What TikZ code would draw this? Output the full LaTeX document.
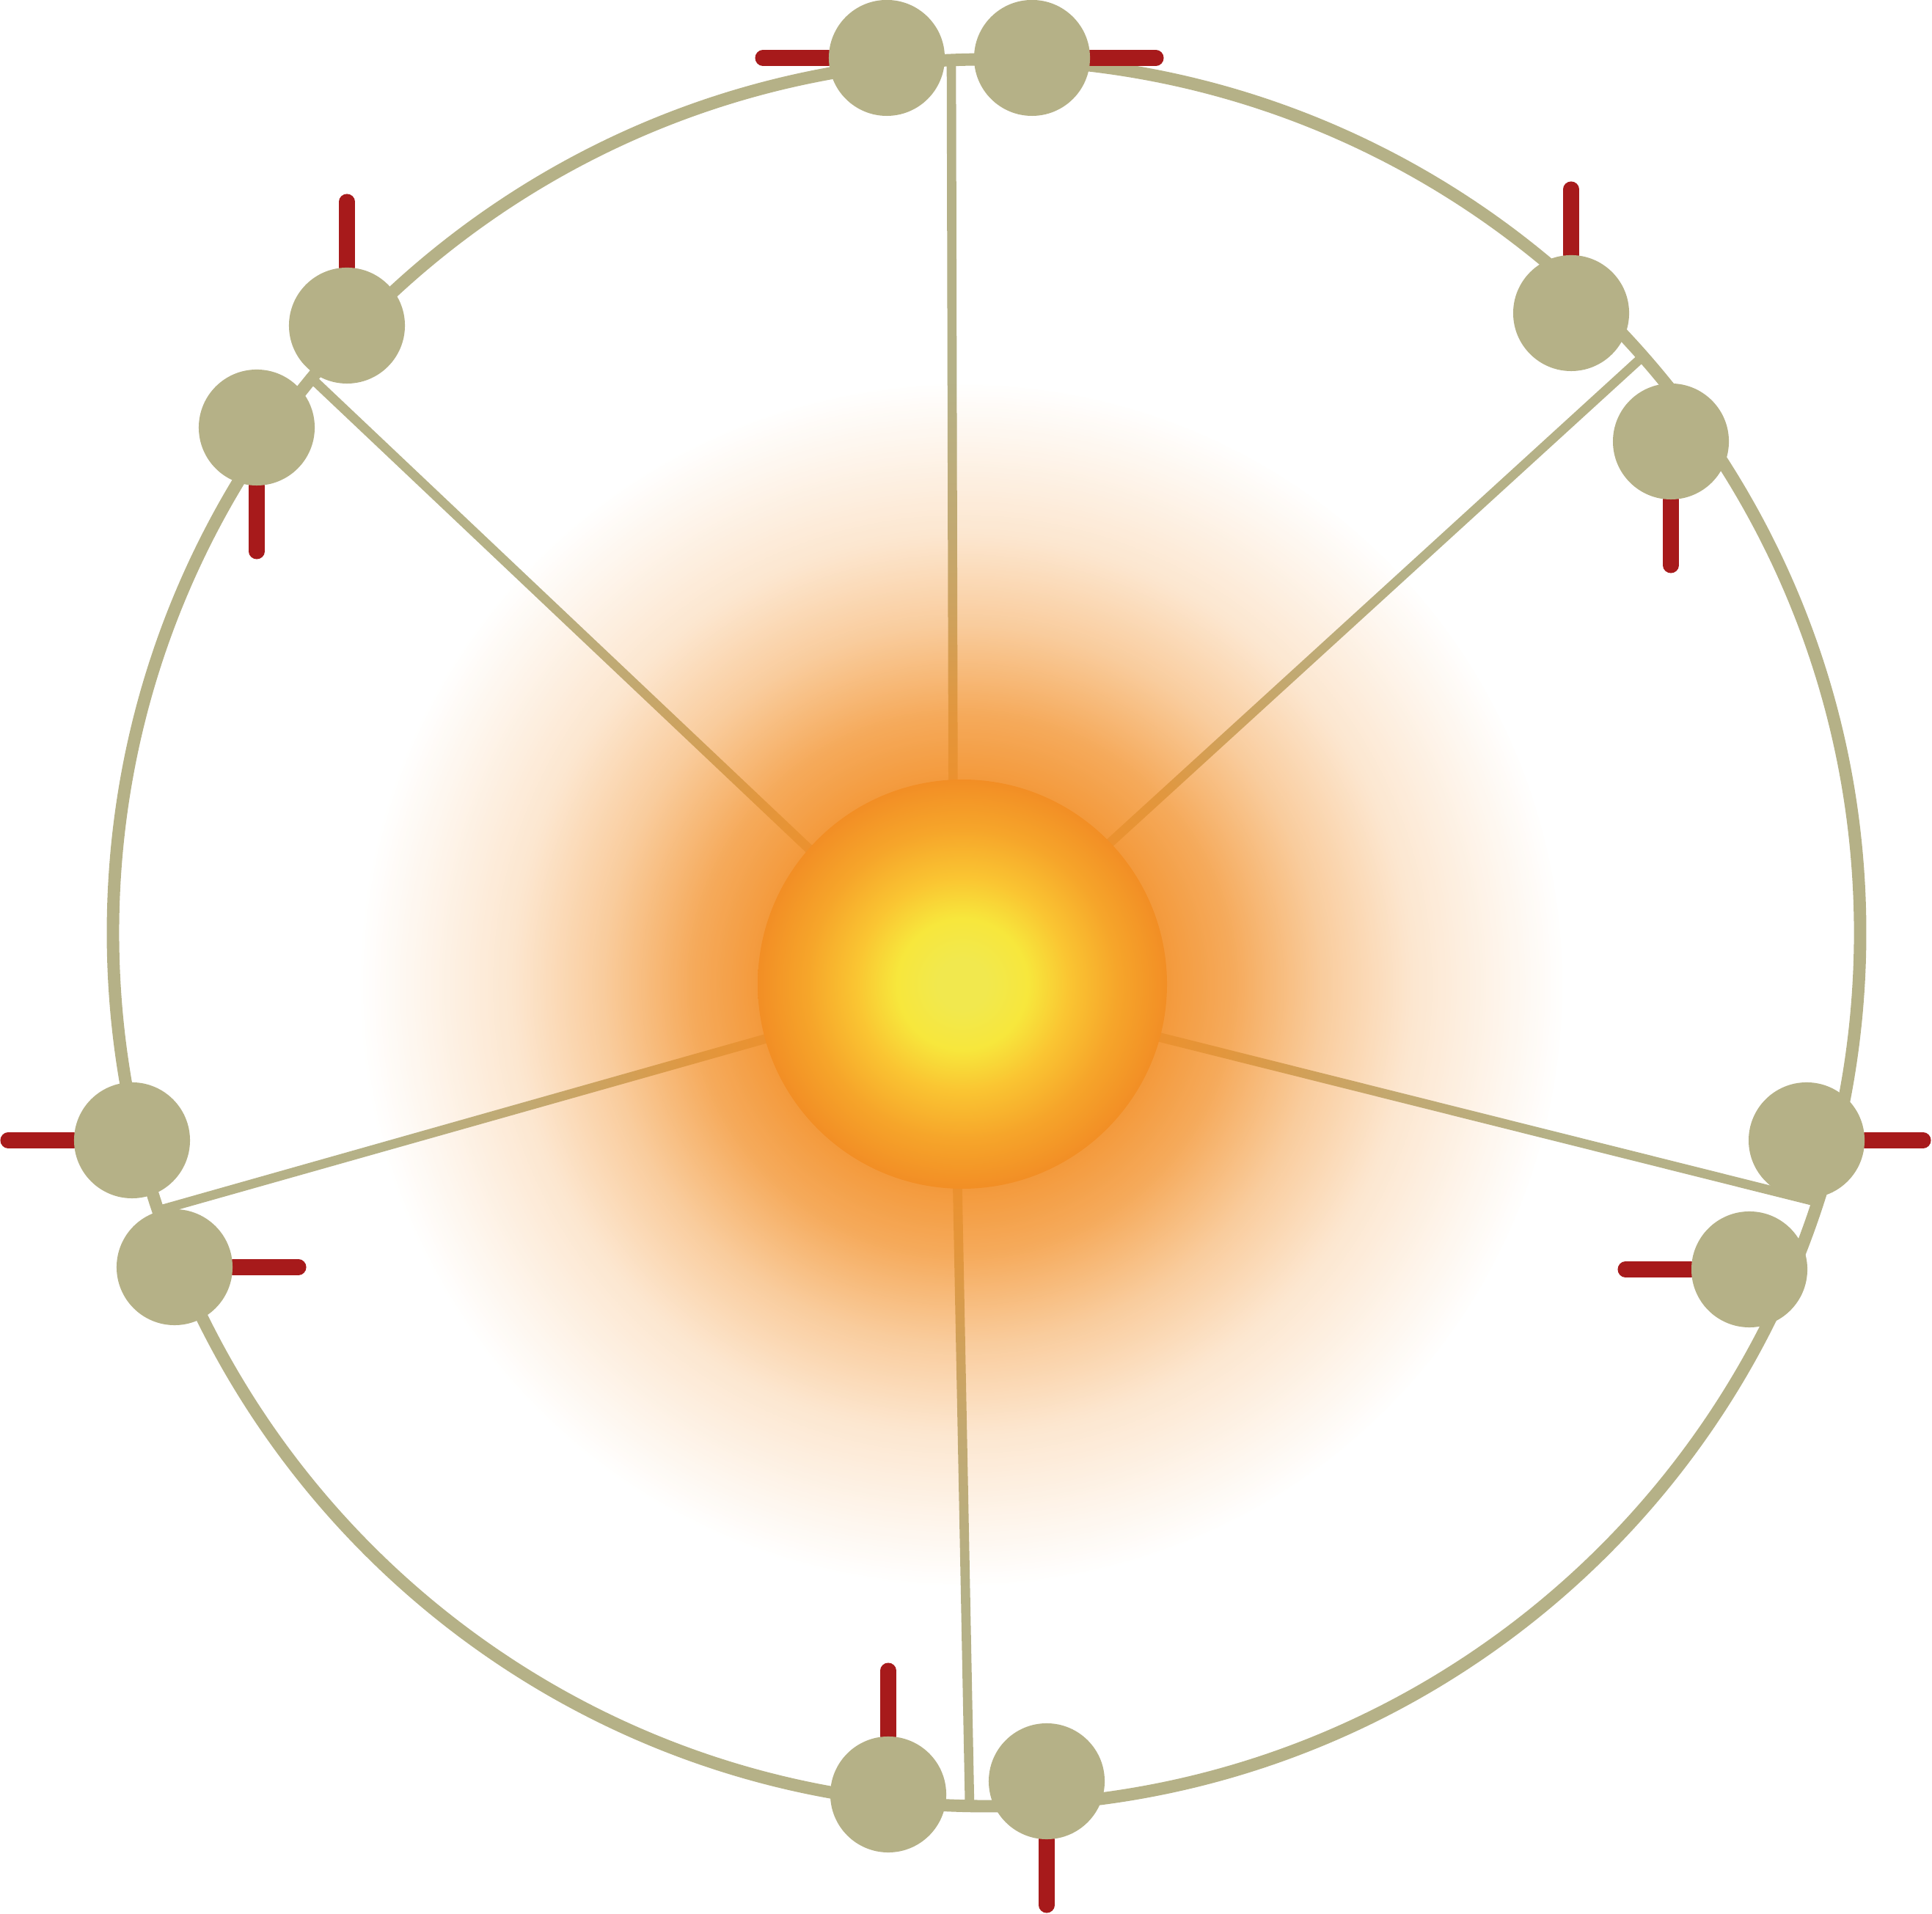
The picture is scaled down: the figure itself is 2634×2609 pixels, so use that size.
\documentclass[tikz,border=0pt]{standalone}
\usepackage{tikz}
\usetikzlibrary{fadings, backgrounds}
\definecolor{ringTan}{HTML}{B5B187}
\definecolor{barRed}{HTML}{A71A1B}
\definecolor{sunCore}{HTML}{F1E84E}
\definecolor{sunYellow}{HTML}{F7E73C}
\definecolor{sunGold}{HTML}{FAC532}
\definecolor{sunAmber}{HTML}{F6A52A}
\definecolor{sunOrange}{HTML}{F28E25}
\colorlet{haloOrange}{sunOrange}

\pgfdeclareradialshading{sunshade}{\pgfpointorigin}{color(0bp)=(sunCore); color(3bp)=(sunCore); color(8bp)=(sunYellow); color(13bp)=(sunGold); color(19bp)=(sunAmber); color(25bp)=(sunOrange); color(50bp)=(sunOrange)}
\pgfdeclareradialshading{halomask}{\pgfpointorigin}{color(0bp)=(white); color(8.4bp)=(black!10); color(11.2bp)=(black!25); color(14.9bp)=(black!55); color(18.6bp)=(black!78); color(22.3bp)=(black!91); color(25bp)=(black); color(50bp)=(black)}
\pgfdeclarefading{halofade}{\pgfuseshading{halomask}}

\begin{document}
\begin{tikzpicture}[x=0.01cm, y=0.01cm,
  bead/.style={circle, fill=ringTan, minimum size=1.58cm, inner sep=0pt},
  ringline/.style={draw=ringTan, line width=4.8pt},
  spoke/.style={draw=ringTan, line width=3.6pt},
  bar/.style={draw=barRed, line width=6pt, line cap=round}]
  \useasboundingbox (0,0) rectangle (2634,2609);

  % Beads
  \node[bead] (T1) at (1209,2530) {};
  \node[bead] (T2) at (1407,2530) {};
  \node[bead] (UL1) at (473,2165) {};
  \node[bead] (UL2) at (350,2026) {};
  \node[bead] (UR1) at (2142,2182) {};
  \node[bead] (UR2) at (2278,2007) {};
  \node[bead] (L1) at (180,1054) {};
  \node[bead] (L2) at (238,881) {};
  \node[bead] (R1) at (2463,1054) {};
  \node[bead] (R2) at (2385,878) {};
  \node[bead] (B1) at (1211,162) {};
  \node[bead] (B2) at (1427,180) {};

  \coordinate (ringc) at (1345,1337);
  \coordinate (hub) at (1300,1265);
  \coordinate (sun) at (1312,1267);
  % where the spokes meet the ring
  \coordinate (jT) at (1297,2529);
  \coordinate (jUL) at (425,2093);
  \coordinate (jUR) at (2241,2124);
  \coordinate (jL) at (218,959);
  \coordinate (jR) at (2477,970);
  \coordinate (jB) at (1322,145);
  % free ends of the red bars
  \coordinate (T1tip) at (1040,2530);
  \coordinate (T2tip) at (1576,2530);
  \coordinate (UL1tip) at (473,2334);
  \coordinate (UL2tip) at (350,1857);
  \coordinate (UR1tip) at (2142,2351);
  \coordinate (UR2tip) at (2278,1838);
  \coordinate (L1tip) at (11,1054);
  \coordinate (L2tip) at (407,881);
  \coordinate (R1tip) at (2622,1054);
  \coordinate (R2tip) at (2216,878);
  \coordinate (B1tip) at (1211,331);
  \coordinate (B2tip) at (1427,11);

  \begin{scope}[on background layer]
    % Outer ring
    \draw[ringline] (ringc) circle (1191);

    % Spokes
    \draw[spoke] (hub) -- (jT);
    \draw[spoke] (hub) -- (jUL);
    \draw[spoke] (hub) -- (jUR);
    \draw[spoke] (hub) -- (jL);
    \draw[spoke] (hub) -- (jR);
    \draw[spoke] (hub) -- (jB);

    % Glow
    \fill[haloOrange, path fading=halofade] (sun) circle (820);
    \shade[shading=sunshade] (sun) circle (279);

    % Red bars
    \draw[bar] (T1) -- (T1tip);
    \draw[bar] (T2) -- (T2tip);
    \draw[bar] (UL1) -- (UL1tip);
    \draw[bar] (UL2) -- (UL2tip);
    \draw[bar] (UR1) -- (UR1tip);
    \draw[bar] (UR2) -- (UR2tip);
    \draw[bar] (L1) -- (L1tip);
    \draw[bar] (L2) -- (L2tip);
    \draw[bar] (R1) -- (R1tip);
    \draw[bar] (R2) -- (R2tip);
    \draw[bar] (B1) -- (B1tip);
    \draw[bar] (B2) -- (B2tip);
  \end{scope}
\end{tikzpicture}
\end{document}
